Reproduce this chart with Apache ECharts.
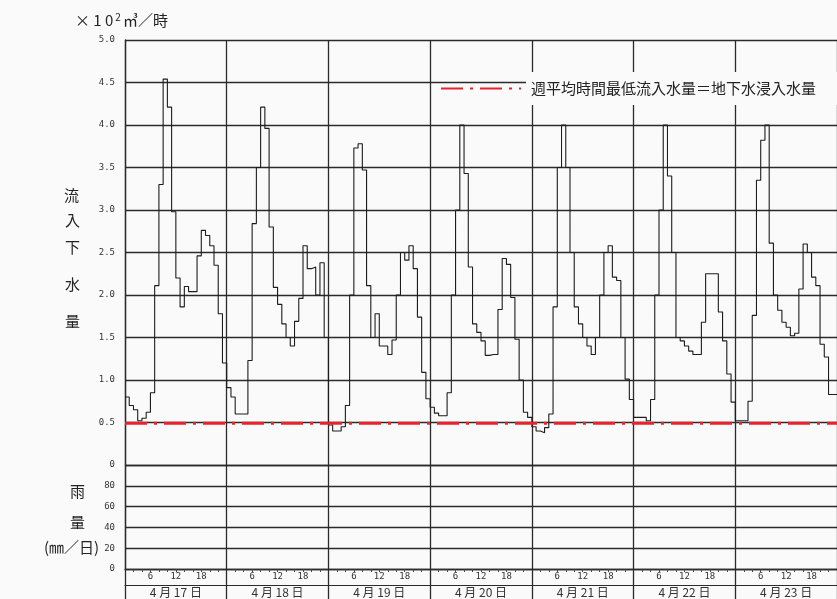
<!DOCTYPE html>
<html>
<head>
<meta charset="utf-8">
<script src="https://cdn.jsdelivr.net/npm/echarts@6.0.0/dist/echarts.min.js"></script>
<style>
  html, body { margin: 0; padding: 0; background: #fafafa; }
  #chart { width: 837px; height: 599px; }
</style>
</head>
<body>
<div id="chart"></div>
<script>
// hourly inflow (x10^2 m3/h), one array per day, hour 0..23
const flow0417 = [0.80, 0.70, 0.65, 0.52, 0.55, 0.62, 0.85, 2.11, 3.30, 4.54, 4.21, 2.98, 2.20, 1.86, 2.10, 2.04, 2.04, 2.46, 2.76, 2.70, 2.58, 2.35, 1.78, 1.20];
const flow0418 = [0.91, 0.80, 0.60, 0.60, 0.60, 1.23, 2.84, 3.50, 4.21, 3.96, 2.80, 2.09, 1.89, 1.66, 1.50, 1.40, 1.69, 1.96, 2.58, 2.31, 2.33, 2.00, 2.38, 1.50];
const flow0419 = [0.47, 0.40, 0.40, 0.45, 0.70, 2.00, 3.73, 3.78, 3.47, 2.11, 1.50, 1.78, 1.40, 1.40, 1.30, 1.47, 2.00, 2.50, 2.41, 2.58, 2.31, 1.74, 1.09, 0.78];
const flow0420 = [0.68, 0.61, 0.58, 0.58, 0.85, 2.00, 3.00, 4.00, 3.43, 2.33, 1.66, 1.56, 1.46, 1.29, 1.30, 1.30, 1.83, 2.43, 2.36, 1.97, 1.48, 1.00, 0.62, 0.56];
const flow0421 = [0.45, 0.40, 0.38, 0.44, 0.60, 1.86, 3.50, 4.00, 3.50, 2.50, 1.86, 1.66, 1.50, 1.40, 1.30, 1.50, 2.00, 2.50, 2.58, 2.21, 2.17, 1.50, 1.01, 0.77];
const flow0422 = [0.56, 0.56, 0.56, 0.52, 0.77, 2.00, 3.00, 4.00, 3.40, 2.50, 1.50, 1.46, 1.40, 1.34, 1.30, 1.30, 1.68, 2.25, 2.25, 2.25, 1.80, 1.46, 1.07, 0.74];
const flow0423 = [0.52, 0.52, 0.52, 0.75, 1.76, 3.35, 3.82, 4.00, 2.61, 2.00, 1.82, 1.68, 1.62, 1.52, 1.55, 2.07, 2.60, 2.50, 2.21, 2.11, 1.42, 1.27, 0.83, 0.83];

const dayLabels = ['4 月 17 日', '4 月 18 日', '4 月 19 日', '4 月 20 日', '4 月 21 日', '4 月 22 日', '4 月 23 日'];
const rainfall = [0, 0, 0, 0, 0, 0, 0];          // mm/day, no rain this week
const baseFlow = 0.49;                            // weekly min hourly inflow = infiltration
const hourLabels = [6, 12, 18];
const rainTickLabels = ['0', '20', '40', '60', '80', '0'];
const legendName = '週平均時間最低流入水量＝地下水浸入水量';

const chart = echarts.init(document.getElementById('chart'));

const allFlow = [flow0417, flow0418, flow0419, flow0420, flow0421, flow0422, flow0423].flat();
const flowData = allFlow.map((v, h) => [h, v]);
flowData.push([allFlow.length, allFlow[allFlow.length - 1]]);
const hours = allFlow.length;

const gridColor = '#2b2b2b';
const mono = 'DejaVu Sans Mono';
const jp = '"Noto Sans CJK JP", sans-serif';
const dayLine = { color: gridColor, width: 1.3 };

const option = {
  backgroundColor: '#fafafa',
  animation: false,
  textStyle: { fontFamily: jp },
  grid: [
    { left: 125, right: 0, top: 40, height: 425, outerBoundsMode: 'none' },
    { left: 125, right: 0, top: 465, height: 104, outerBoundsMode: 'none' }
  ],
  legend: {
    data: [legendName],
    left: 440,
    top: 72,
    padding: 0,
    itemWidth: 80,
    itemHeight: 12,
    itemStyle: { color: 'rgba(0,0,0,0)', borderWidth: 0 },
    textStyle: {
      fontSize: 15,
      color: '#222',
      fontFamily: jp,
      backgroundColor: '#fafafa',
      padding: [9, 22, 9, 5]
    }
  },
  graphic: [
    {
      type: 'text', left: 75, top: 12,
      style: {
        text: '{a|× 1 0}{s|2}{a|㎥／時}',
        rich: {
          a: { fontSize: 15, fontFamily: jp, fill: '#222' },
          s: { fontSize: 10, fontFamily: jp, fill: '#222', verticalAlign: 'top', padding: [0, 2, 6, 2] }
        }
      }
    },
    { type: 'text', left: 64, top: 188, style: { text: '流', fill: '#222', font: '15px ' + jp } },
    { type: 'text', left: 65, top: 213, style: { text: '入', fill: '#222', font: '15px ' + jp } },
    { type: 'text', left: 65, top: 240, style: { text: '下', fill: '#222', font: '15px ' + jp } },
    { type: 'text', left: 65, top: 277, style: { text: '水', fill: '#222', font: '15px ' + jp } },
    { type: 'text', left: 65, top: 314, style: { text: '量', fill: '#222', font: '15px ' + jp } },
    { type: 'text', left: 70, top: 484, style: { text: '雨', fill: '#222', font: '15px ' + jp } },
    { type: 'text', left: 70, top: 515, style: { text: '量', fill: '#222', font: '15px ' + jp } },
    { type: 'text', left: 44, top: 540, style: { text: '(㎜／日)', fill: '#222', font: '15px ' + jp } }
  ],
  xAxis: [
    {
      gridIndex: 0, type: 'value', position: 'bottom', min: 0, max: hours, interval: 24,
      axisLine: { show: false }, axisTick: { show: false }, axisLabel: { show: false },
      splitLine: { show: true, lineStyle: dayLine }
    },
    {
      gridIndex: 1, type: 'value', position: 'bottom', min: 0, max: hours, interval: 2,
      axisLine: { show: true, lineStyle: dayLine },
      axisTick: { show: true, length: 3, lineStyle: { color: '#444' } },
      axisLabel: {
        margin: 3, fontSize: 9, fontFamily: mono, color: '#333',
        formatter: v => (hourLabels.includes(v % 24) ? String(v % 24) : '')
      },
      splitLine: { show: false }
    },
    {
      gridIndex: 1, type: 'value', position: 'bottom', min: 0, max: hours, interval: 24,
      axisLine: { show: false },
      axisTick: { show: true, length: 30, lineStyle: dayLine },
      axisLabel: { show: false },
      splitLine: { show: true, lineStyle: dayLine }
    },
    {
      gridIndex: 1, type: 'category', position: 'bottom', data: dayLabels, boundaryGap: true, offset: 16,
      axisLine: { show: true, lineStyle: { color: gridColor, width: 1 } },
      axisTick: { show: false },
      axisLabel: { interval: 0, margin: 1, fontSize: 12, fontFamily: jp, color: '#333' },
      splitLine: { show: false }
    }
  ],
  yAxis: [
    {
      gridIndex: 0, type: 'value', min: 0, max: 5, interval: 0.5,
      axisLine: { show: true, lineStyle: dayLine },
      axisTick: { show: false },
      axisLabel: {
        margin: 10, fontSize: 9, fontFamily: mono, color: '#333',
        formatter: v => (v === 0 ? '' : v.toFixed(1))
      },
      splitLine: { show: true, lineStyle: dayLine }
    },
    {
      gridIndex: 1, type: 'value', min: 0, max: 100, interval: 20,
      axisLine: { show: true, lineStyle: dayLine },
      axisTick: { show: false },
      axisLabel: {
        margin: 10, fontSize: 9, fontFamily: mono, color: '#333',
        formatter: v => rainTickLabels[Math.round(v / 20)]
      },
      splitLine: { show: true, lineStyle: dayLine }
    }
  ],
  series: [
    {
      name: '流入下水量', type: 'line', xAxisIndex: 0, yAxisIndex: 0,
      step: 'end', symbol: 'none', data: flowData, z: 3,
      lineStyle: { color: '#1c1c1c', width: 1.1 }
    },
    {
      name: legendName, type: 'line', xAxisIndex: 0, yAxisIndex: 0,
      symbol: 'none', data: [[0, baseFlow], [hours, baseFlow]], z: 4,
      lineStyle: { color: '#e8232b', width: 3, type: [22, 7, 3, 7] },
      itemStyle: { color: '#e8232b' }
    },
    {
      name: '雨量', type: 'bar', xAxisIndex: 3, yAxisIndex: 1,
      data: rainfall, barWidth: '40%', itemStyle: { color: '#222' }
    }
  ]
};

chart.setOption(option);
</script>
</body>
</html>
